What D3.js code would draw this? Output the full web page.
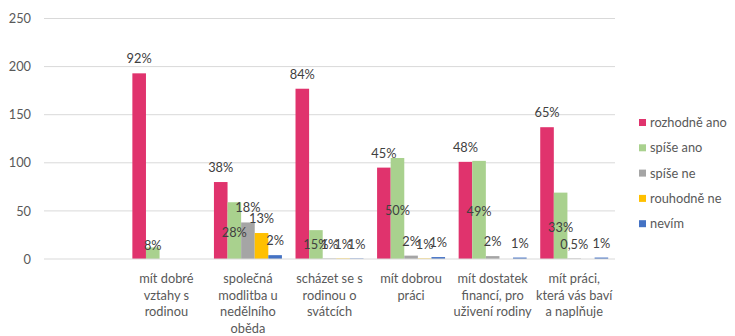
<!DOCTYPE html>
<html><head><meta charset="utf-8">
<script src="https://cdn.jsdelivr.net/npm/d3@7"></script>
<style>body{margin:0;background:#fff;}svg{display:block;font-family:Lato,"Liberation Sans",sans-serif;}</style>
</head><body><svg id="c" width="735" height="336"></svg>
<script>
const categories = ["", "mít dobré\nvztahy s\nrodinou", "společná\nmodlitba u\nnedělního\noběda", "scházet se s\nrodinou o\nsvátcích", "mít dobrou\npráci", "mít dostatek\nfinancí, pro\nuživení rodiny", "mít práci,\nkterá vás baví\na naplňuje"];
const seriesNames = ["rozhodně ano", "spíše ano", "spíše ne", "rouhodně ne", "nevím"];
const seriesColors = ["#E0336D", "#A9D18E", "#A5A5A5", "#FFC000", "#4472C4"];
const rozhodneAno = [null, 193, 80, 177, 95, 101, 137];
const spiseAno    = [null, 12, 59, 30, 105, 102, 69];
const spiseNe     = [null, 0, 38, 0.5, 3.5, 3, 0.5];
const rozhodneNe  = [null, 0, 27, 0.5, 0.5, 0, 0];
const nevim       = [null, 0, 4, 0.5, 2, 1.5, 1.5];
const lblAno      = ["", "92%", "38%", "84%", "45%", "48%", "65%"];
const lblSpiseAno = ["", "8%", "28%", "15%", "50%", "49%", "33%"];
const lblSpiseNe  = ["", "", "18%", "1%", "2%", "2%", "0,5%"];
const lblRozNe    = ["", "", "13%", "1%", "1%", "", ""];
const lblNevim    = ["", "", "2%", "1%", "1%", "1%", "1%"];
const pctSpiseAno = [null, 8, 28, 15, 50, 49, 33];
const yTicks = [0, 50, 100, 150, 200, 250];

const values = [rozhodneAno, spiseAno, spiseNe, rozhodneNe, nevim];
const labels = [lblAno, lblSpiseAno, lblSpiseNe, lblRozNe, lblNevim];
const FS = 12.8;

const svg = d3.select("#c");
const x0 = d3.scaleBand().domain(d3.range(categories.length)).range([44, 615]);
const bw = x0.bandwidth();
const x1 = d3.scaleBand().domain(d3.range(seriesNames.length)).range([bw/12, bw - bw/12]);
const y = d3.scaleLinear().domain([0, 250]).range([259, 18.5]);

// gridlines
svg.append("g").selectAll("line").data(yTicks.filter(t=>t>0)).join("line")
  .attr("x1", 44).attr("x2", 615).attr("y1", d=>y(d)).attr("y2", d=>y(d))
  .attr("stroke", "#D9D9D9").attr("stroke-width", 1);

// y axis
const yAxis = d3.axisLeft(y).tickValues(yTicks).tickSize(0).tickPadding(0);
const ga = svg.append("g").attr("transform", "translate(31,0)").call(yAxis);
ga.select(".domain").remove();
ga.selectAll("text").attr("font-size", FS).attr("fill", "#595959").attr("font-family", "Lato, sans-serif");

// bars
values.forEach((arr, s) => {
  svg.append("g").selectAll("rect").data(arr.map((v,i)=>({v,i})).filter(d=>d.v!=null && d.v>0)).join("rect")
    .attr("x", d=>x0(d.i)+x1(s)).attr("width", x1.bandwidth())
    .attr("y", d=>y(d.v)).attr("height", d=>y(0)-y(d.v))
    .attr("fill", seriesColors[s]);
});

// baseline
svg.append("line").attr("x1", 44).attr("x2", 615).attr("y1", y(0)).attr("y2", y(0))
  .attr("stroke", "#D9D9D9").attr("stroke-width", 1);

// data labels
labels.forEach((arr, s) => {
  svg.append("g").selectAll("text").data(arr.map((t,i)=>({t,i})).filter(d=>d.t!=="")).join("text")
    .attr("x", d=>x0(d.i)+x1(s)+x1.bandwidth()/2)
    .attr("y", d=> s===1 ? y(Math.max(pctSpiseAno[d.i], 14)) + 4.5 : y(values[s][d.i]) - 10)
    .attr("text-anchor", "middle").attr("font-size", FS).attr("fill", "#404040")
    .text(d=>d.t);
});

// x labels
const xl = svg.append("g").selectAll("text").data(categories.map((c,i)=>({c,i}))).join("text")
  .attr("text-anchor", "middle").attr("font-size", FS).attr("fill", "#595959");
xl.each(function(d){
  const t = d3.select(this);
  d.c.split("\n").forEach((line, k) => {
    if (!line) return;
    t.append("tspan").attr("x", x0(d.i)+bw/2).attr("y", 283 + k*16.5).text(line);
  });
});

// legend
const lg = svg.append("g").selectAll("g").data(seriesNames).join("g")
  .attr("transform", (d,i)=>`translate(639,${122.5 + i*25.3})`);
lg.append("rect").attr("x", 0).attr("y", -3.5).attr("width", 7).attr("height", 7).attr("fill", (d,i)=>seriesColors[i]);
lg.append("text").attr("x", 11).attr("y", 4.5).attr("font-size", FS).attr("fill", "#595959").text(d=>d);
</script></body></html>
